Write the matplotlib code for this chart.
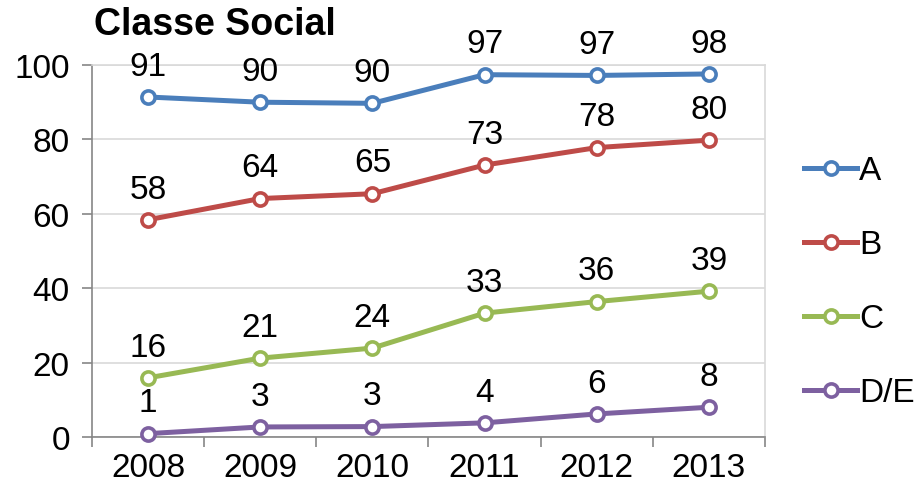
import numpy as np
import matplotlib.pyplot as plt
from matplotlib.ticker import FixedLocator

plt.rcParams['font.family'] = ['Liberation Sans', 'DejaVu Sans']

years = ['2008', '2009', '2010', '2011', '2012', '2013']
a_vals = [91.4, 90.0, 89.7, 97.4, 97.2, 97.6]
b_vals = [58.4, 64.1, 65.4, 73.1, 77.8, 79.8]
c_vals = [15.9, 21.2, 23.9, 33.3, 36.4, 39.2]
de_vals = [0.9, 2.7, 2.8, 3.8, 6.2, 8.0]
series_names = ['A', 'B', 'C', 'D/E']
colors = ['#4A7EBB', '#BE4B48', '#98B954', '#7D60A0']

fig = plt.figure(figsize=(9.18, 4.89), dpi=100)
ax = fig.add_axes([0.1002, 0.1043, 0.7331, 0.7607])

x = np.arange(len(years))
for vals, name, col in zip([a_vals, b_vals, c_vals, de_vals], series_names, colors):
    ax.plot(x, vals, color=col, lw=3.6, marker='o', ms=9.5, mfc='white',
            mec=col, mew=2.6, label=name, clip_on=False, zorder=3)
    for xi, v in zip(x, vals):
        ax.annotate(f'{v:.0f}', (xi, v), xytext=(0, 16), textcoords='offset points',
                    ha='center', va='baseline', fontsize=24)

ax.set_xlim(-0.5, len(years) - 0.5)
ax.set_ylim(0, 100)
ax.set_yticks(range(0, 101, 20))
ax.set_xticks(x)
ax.set_xticklabels(years)
ax.xaxis.set_minor_locator(FixedLocator(np.arange(-0.5, len(years), 1)))
ax.tick_params(axis='x', which='major', length=0, pad=11, labelsize=24)
ax.tick_params(axis='x', which='minor', length=7, color='#868686', width=1.2)
ax.tick_params(axis='y', length=7, color='#868686', width=1.2, labelsize=24, pad=9)
ax.grid(axis='y', color='#D9D9D9', lw=1.2)
ax.set_axisbelow(True)
for side in ['left', 'bottom']:
    ax.spines[side].set_color('#868686')
    ax.spines[side].set_linewidth(1.2)
for side in ['top', 'right']:
    ax.spines[side].set_color('#D9D9D9')
    ax.spines[side].set_linewidth(1.2)

fig.text(0.102, 0.912, 'Classe Social', fontsize=27, fontweight='bold', ha='left', va='bottom')

ax.legend(loc='center left', bbox_to_anchor=(1.038, 0.417), frameon=False, fontsize=24,
          labelspacing=1.29, handlelength=1.6, handletextpad=0.05, borderaxespad=0)

fig.savefig('out.png', dpi=100)
